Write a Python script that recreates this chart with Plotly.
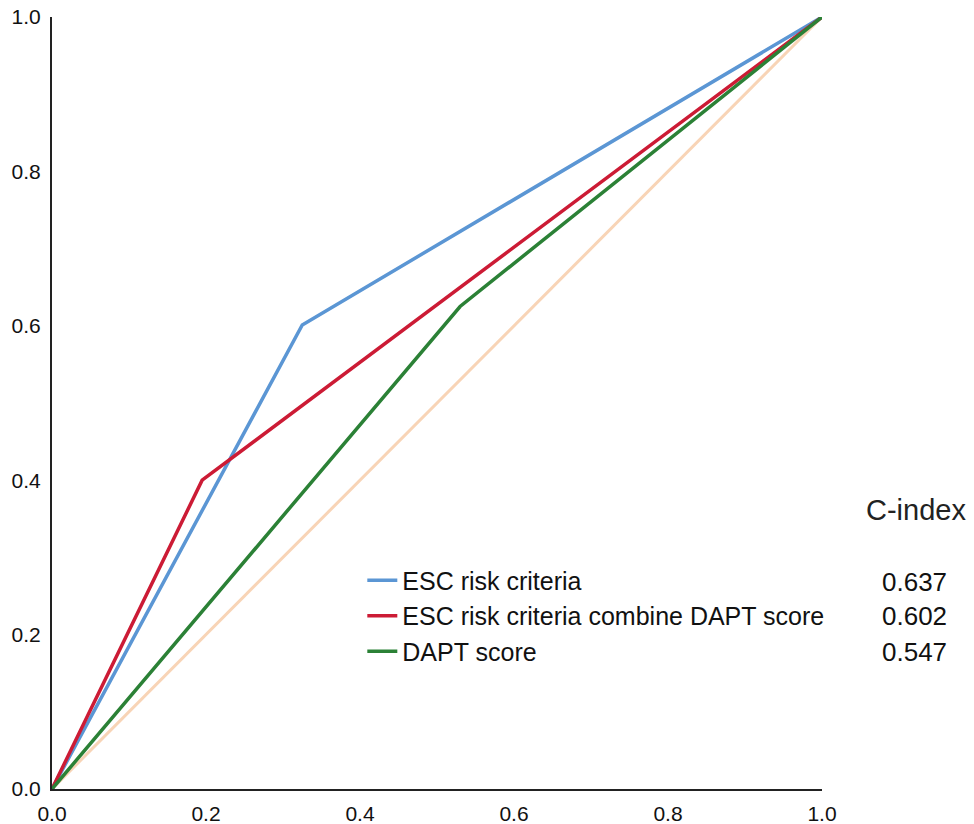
import plotly.graph_objects as go

# ROC curve points (1 - specificity, sensitivity)
esc_x = [0.0, 0.325, 1.0]
esc_y = [0.0, 0.601, 1.0]
combo_x = [0.0, 0.195, 1.0]
combo_y = [0.0, 0.400, 1.0]
dapt_x = [0.0, 0.530, 1.0]
dapt_y = [0.0, 0.625, 1.0]
ref_x = [0.0, 1.0]
ref_y = [0.0, 1.0]

series_names = ["ESC risk criteria", "ESC risk criteria combine DAPT score", "DAPT score"]
c_index = ["0.637", "0.602", "0.547"]
colors = ["#5b96d4", "#cc1b35", "#2b8136"]
tick_vals = [0.0, 0.2, 0.4, 0.6, 0.8, 1.0]
tick_text = ["0.0", "0.2", "0.4", "0.6", "0.8", "1.0"]

FONT = "Liberation Sans, Arial, sans-serif"

fig = go.Figure()
fig.add_trace(go.Scatter(x=ref_x, y=ref_y, mode="lines", showlegend=False,
                         line=dict(color="#f8d4b6", width=3), cliponaxis=False, hoverinfo="skip"))
for xs, ys, name, col in zip([esc_x, combo_x, dapt_x], [esc_y, combo_y, dapt_y], series_names, colors):
    fig.add_trace(go.Scatter(x=xs, y=ys, mode="lines", name=name,
                             line=dict(color=col, width=3.5), cliponaxis=False))

row_y = [0.268, 0.224, 0.178]
for v, yy in zip(c_index, row_y):
    fig.add_annotation(x=1.165, y=yy, xref="paper", yref="paper", text=v, showarrow=False,
                       xanchor="right", yanchor="middle", font=dict(size=26, color="#111", family=FONT))
fig.add_annotation(x=1.19, y=0.361, xref="paper", yref="paper", text="C-index", showarrow=False,
                   xanchor="right", yanchor="middle", font=dict(size=29, color="#222", family=FONT))

fig.update_layout(
    width=974, height=824,
    margin=dict(l=52, r=152, t=17, b=35),
    plot_bgcolor="white", paper_bgcolor="white",
    font=dict(family=FONT, color="#111"),
    legend=dict(x=0.403, y=0.30, xanchor="left", yanchor="top", bgcolor="rgba(0,0,0,0)",
                font=dict(size=25, family=FONT, color="#111"), tracegroupgap=0),
    xaxis=dict(range=[0, 1], tickvals=tick_vals, ticktext=tick_text, showgrid=False, zeroline=False,
               showline=True, linecolor="#222", linewidth=2, ticks="", ticklabelstandoff=5,
               automargin=False, tickfont=dict(size=21, family=FONT, color="#111")),
    yaxis=dict(range=[0, 1], tickvals=tick_vals, ticktext=tick_text, showgrid=False, zeroline=False,
               showline=True, linecolor="#222", linewidth=2, ticks="", ticklabelstandoff=5,
               automargin=False, tickfont=dict(size=21, family=FONT, color="#111")),
)

fig.write_html("out.html", config={"displayModeBar": False},
               post_script="document.body.style.margin='0';")
